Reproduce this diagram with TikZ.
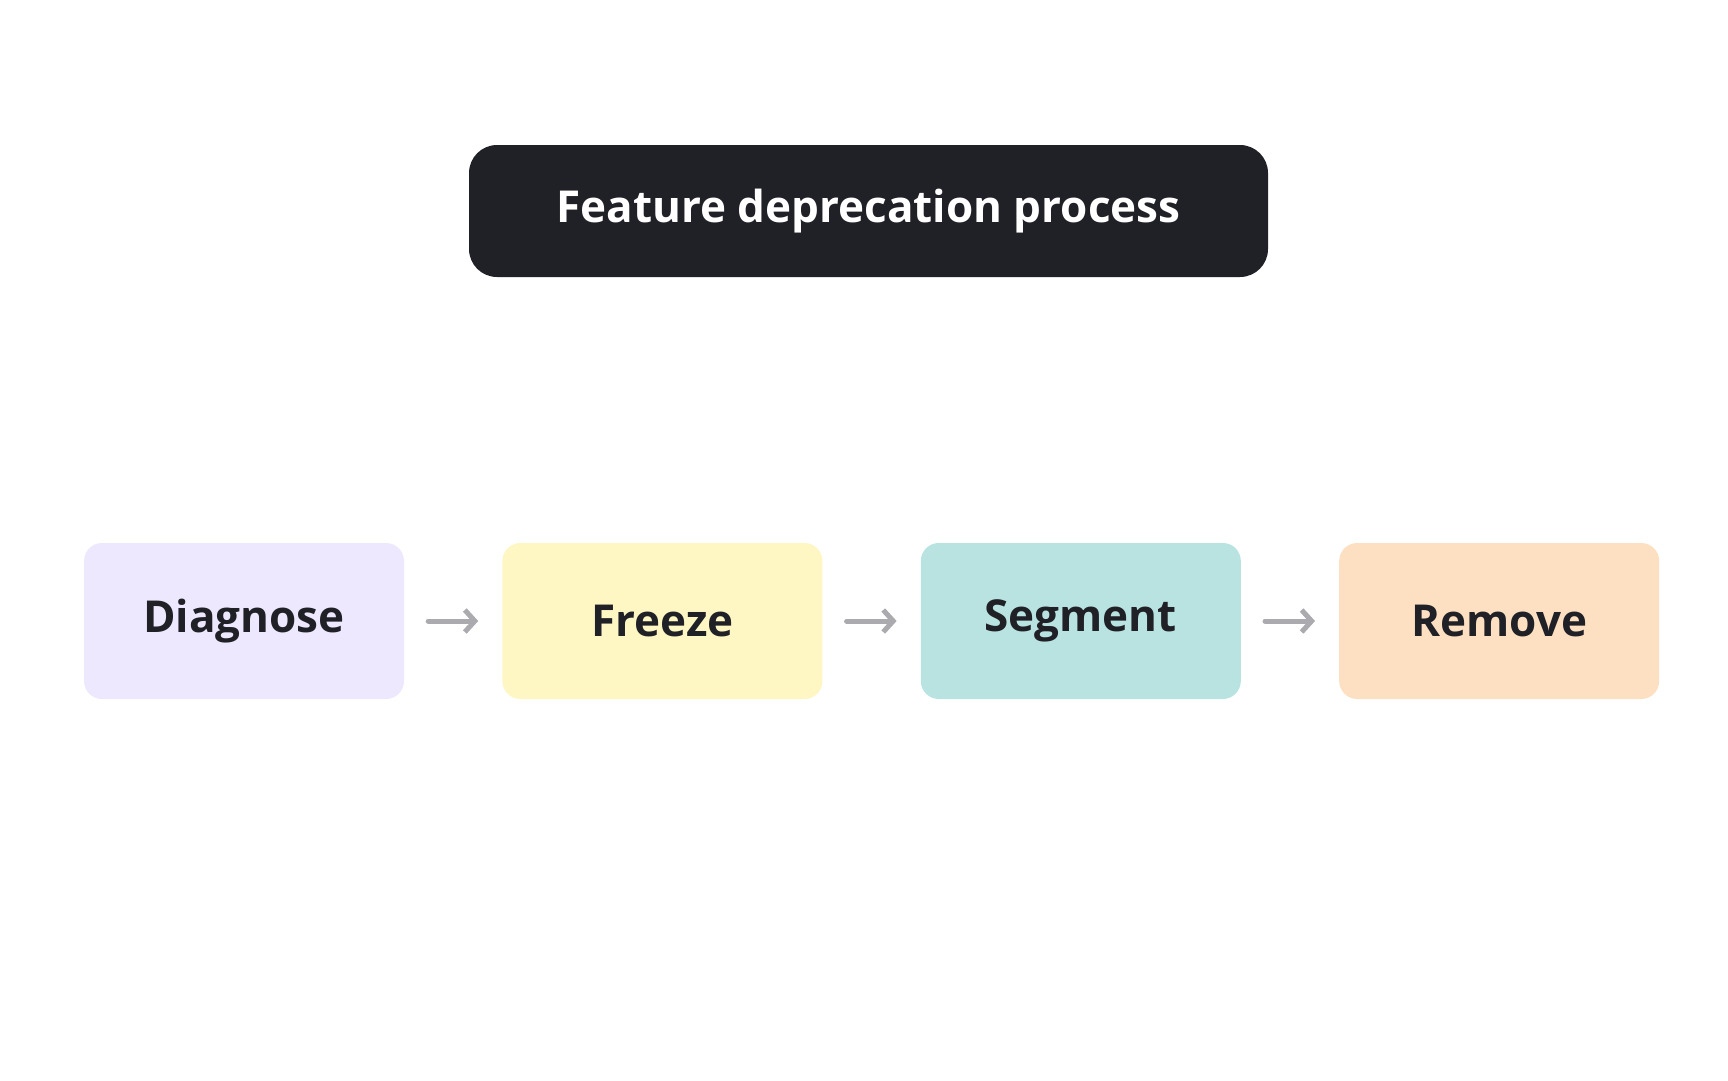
\documentclass[tikz,border=0pt]{standalone}
\usepackage{fontspec}
\setmainfont{Open Sans}
\usetikzlibrary{arrows.meta,positioning}
\definecolor{titlebg}{HTML}{202027}
\definecolor{stepa}{HTML}{EDE8FD}
\definecolor{stepb}{HTML}{FEF6C3}
\definecolor{stepc}{HTML}{B8E3E1}
\definecolor{stepd}{HTML}{FDDFC2}
\definecolor{arrowgray}{HTML}{ABABAF}
\begin{document}
\begin{tikzpicture}[
    x=1pt, y=1pt,
    every node/.style={font=\fontsize{44}{52}\selectfont\bfseries},
    stage/.style={rounded corners=18pt, minimum width=320pt, minimum height=156pt, inner sep=0pt, text=titlebg},
    arrow/.style={-{Straight Barb[length=10pt,width=22pt]}, line width=5pt, color=arrowgray, line cap=round},
    node distance=98pt,
]
\useasboundingbox[fill=white] (0,0) rectangle (1728,-1080);

% Title
\node[fill=titlebg, text=white, rounded corners=28pt, minimum width=799pt, minimum height=132pt] (title) at (868.5,-211) {Feature deprecation process};

% Stages
\node[stage, fill=stepa] (diagnose) at (244,-621) {Diagnose};
\node[stage, fill=stepb, right=of diagnose] (freeze) {Freeze};
\node[stage, fill=stepc, right=of freeze] (segment) {Segment};
\node[stage, fill=stepd, right=of segment] (remove) {Remove};

% Arrows
\draw[arrow] ([xshift=24pt]diagnose.east) -- ([xshift=-24pt]freeze.west);
\draw[arrow] ([xshift=24pt]freeze.east) -- ([xshift=-24pt]segment.west);
\draw[arrow] ([xshift=24pt]segment.east) -- ([xshift=-24pt]remove.west);

\end{tikzpicture}
\end{document}
